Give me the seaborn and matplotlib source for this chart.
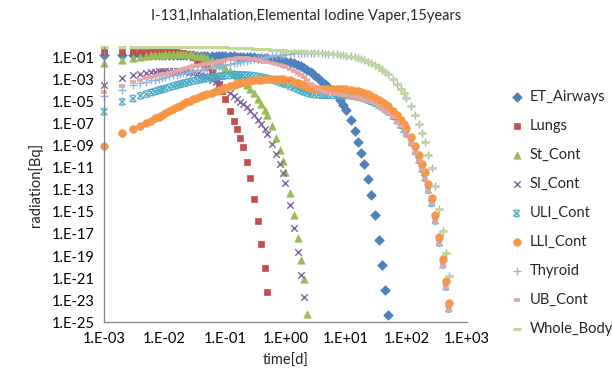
import numpy as np
import matplotlib
matplotlib.use("Agg")
import matplotlib.pyplot as plt
import seaborn as sns
from matplotlib.path import Path
from matplotlib.ticker import NullLocator

# time grid [d]
time_d = [
    0.001, 0.002, 0.003, 0.004, 0.005, 0.006, 0.007, 0.008, 0.009,
    0.01, 0.012, 0.014, 0.016, 0.018, 0.02, 0.023, 0.026, 0.03, 0.035, 0.04, 0.045, 0.05, 0.06, 0.07, 0.08, 0.09,
    0.1, 0.12, 0.14, 0.16, 0.18, 0.2, 0.23, 0.26, 0.3, 0.35, 0.4, 0.45, 0.5, 0.6, 0.7, 0.8, 0.9,
    1, 1.2, 1.4, 1.6, 1.8, 2, 2.3, 2.6, 3, 3.5, 4, 4.5, 5, 6, 7, 8, 9,
    10, 12, 14, 16, 18, 20, 23, 26, 30, 35, 40, 45, 50, 60, 70, 80, 90,
    100, 120, 140, 160, 180, 200, 230, 260, 300, 350, 400, 450, 500,
]

# radiation values as log10(Bq) (series stop when they leave the axis)
et_airways = [
    -0.75, -0.75, -0.75, -0.75, -0.75, -0.75, -0.75, -0.75, -0.75,
    -0.75, -0.75, -0.76, -0.76, -0.76, -0.77, -0.77, -0.78, -0.78, -0.79, -0.79, -0.8, -0.8, -0.81, -0.82, -0.83, -0.84,
    -0.85, -0.86, -0.87, -0.88, -0.89, -0.9, -0.92, -0.93, -0.95, -0.97, -0.99, -1.01, -1.03, -1.08, -1.13, -1.2, -1.25,
    -1.3, -1.4, -1.5, -1.63, -1.77, -1.9, -2.1, -2.3, -2.55, -2.85, -3.15, -3.4, -3.62, -4.0, -4.4, -4.8, -5.25,
    -5.7, -6.65, -7.6, -8.6, -9.6, -10.6, -12.0, -13.5, -15.3, -17.5, -19.8, -22.1, -24.4,
]
lungs = [
    -0.43, -0.43, -0.43, -0.43, -0.43, -0.43, -0.43, -0.43, -0.43,
    -0.43, -0.44, -0.46, -0.5, -0.55, -0.6, -0.68, -0.78, -0.95, -1.15, -1.35, -1.55, -1.8, -2.3, -2.8, -3.4, -4.0,
    -4.7, -5.8, -6.7, -7.5, -8.3, -9.1, -10.5, -11.9, -13.8, -15.8, -17.9, -20.1, -22.3,
]
st_cont = [
    -1.45, -1.2, -0.98, -0.88, -0.8, -0.76, -0.73, -0.71, -0.7,
    -0.69, -0.67, -0.66, -0.65, -0.65, -0.65, -0.66, -0.68, -0.72, -0.79, -0.87, -0.95, -1.03, -1.2, -1.37, -1.53, -1.68,
    -1.9, -2.15, -2.4, -2.65, -2.9, -3.15, -3.5, -3.8, -4.2, -4.7, -5.2, -5.7, -6.2, -7.2, -8.3, -9.4, -10.4,
    -11.4, -13.3, -15.3, -17.4, -19.4, -21.1, -24.3,
]
si_cont = [
    -3.45, -2.85, -2.6, -2.45, -2.35, -2.3, -2.26, -2.23, -2.21,
    -2.2, -2.18, -2.17, -2.17, -2.18, -2.2, -2.23, -2.27, -2.33, -2.42, -2.52, -2.63, -2.75, -2.98, -3.2, -3.42, -3.62,
    -3.82, -4.2, -4.5, -4.75, -4.98, -5.2, -5.5, -5.8, -6.15, -6.6, -7.05, -7.5, -7.9, -8.8, -9.7, -10.6, -11.5,
    -12.4, -14.4, -16.5, -18.6, -20.7, -22.7,
]
uli_cont = [
    -5.9, -5.0, -4.7, -4.45, -4.3, -4.15, -4.05, -3.95, -3.87,
    -3.8, -3.67, -3.57, -3.48, -3.4, -3.33, -3.25, -3.18, -3.1, -3.02, -2.95, -2.9, -2.85, -2.78, -2.72, -2.68, -2.65,
    -2.62, -2.58, -2.56, -2.55, -2.55, -2.56, -2.58, -2.6, -2.64, -2.7, -2.76, -2.82, -2.88, -3.0, -3.1, -3.2, -3.3,
    -3.4, -3.57, -3.72, -3.85, -3.97, -4.07, -4.18, -4.26, -4.32, -4.36, -4.38, -4.39, -4.4, -4.4, -4.4, -4.4, -4.4,
    -4.4, -4.43, -4.48, -4.55, -4.62, -4.7, -4.82, -4.95, -5.1, -5.3, -5.5, -5.7, -5.9, -6.3, -6.7, -7.1, -7.5,
    -7.9, -8.7, -9.5, -10.3, -11.1, -11.9, -13.0, -14.2, -15.8, -17.8, -19.8, -21.8, -23.8,
]
lli_cont = [
    -9.0, -7.8, -7.45, -7.15, -6.9, -6.7, -6.5, -6.35, -6.2,
    -6.05, -5.85, -5.65, -5.5, -5.35, -5.2, -5.05, -4.9, -4.75, -4.6, -4.5, -4.4, -4.3, -4.15, -4.0, -3.9, -3.8,
    -3.7, -3.55, -3.45, -3.35, -3.28, -3.22, -3.15, -3.1, -3.05, -3.0, -2.97, -2.95, -2.93, -2.92, -2.92, -2.93, -2.95,
    -2.98, -3.05, -3.15, -3.27, -3.4, -3.5, -3.62, -3.72, -3.8, -3.85, -3.87, -3.87, -3.86, -3.85, -3.84, -3.84, -3.85,
    -3.87, -3.92, -3.98, -4.05, -4.12, -4.2, -4.32, -4.45, -4.6, -4.8, -5.0, -5.2, -5.4, -5.8, -6.2, -6.6, -7.0,
    -7.4, -8.2, -9.0, -9.8, -10.6, -11.4, -12.5, -13.7, -15.3, -17.3, -19.3, -21.3, -23.3,
]
thyroid = [
    -4.43, -3.9, -3.45, -3.28, -3.15, -3.05, -2.97, -2.9, -2.84,
    -2.78, -2.68, -2.6, -2.52, -2.46, -2.4, -2.33, -2.27, -2.2, -2.12, -2.06, -2.0, -1.95, -1.87, -1.8, -1.74, -1.69,
    -1.64, -1.56, -1.48, -1.42, -1.36, -1.31, -1.24, -1.18, -1.11, -1.04, -0.98, -0.93, -0.89, -0.82, -0.77, -0.73, -0.7,
    -0.67, -0.63, -0.6, -0.58, -0.57, -0.56, -0.56, -0.56, -0.57, -0.58, -0.6, -0.61, -0.63, -0.66, -0.69, -0.72, -0.75,
    -0.79, -0.87, -0.95, -1.03, -1.11, -1.2, -1.33, -1.46, -1.63, -1.85, -2.07, -2.29, -2.5, -2.93, -3.36, -3.79, -4.2,
    -4.6, -5.4, -6.2, -7.0, -7.8, -8.6, -9.8, -11.0, -12.6, -14.7, -16.7, -18.7, -20.8,
]
ub_cont = [
    -4.1, -3.55, -3.2, -3.0, -2.85, -2.75, -2.65, -2.58, -2.5,
    -2.45, -2.35, -2.25, -2.15, -2.08, -2.0, -1.92, -1.85, -1.77, -1.7, -1.63, -1.57, -1.52, -1.43, -1.36, -1.3, -1.25,
    -1.2, -1.13, -1.08, -1.05, -1.03, -1.03, -1.05, -1.08, -1.13, -1.2, -1.27, -1.33, -1.4, -1.5, -1.6, -1.68, -1.75,
    -1.82, -1.98, -2.15, -2.35, -2.55, -2.75, -3.05, -3.35, -3.6, -3.85, -4.0, -4.1, -4.18, -4.27, -4.32, -4.36, -4.4,
    -4.43, -4.52, -4.58, -4.65, -4.72, -4.8, -4.92, -5.05, -5.2, -5.4, -5.6, -5.8, -6.0, -6.4, -6.8, -7.2, -7.6,
    -8.0, -8.8, -9.6, -10.4, -11.2, -12.0, -13.1, -14.3, -15.9, -17.9, -19.9, -21.9, -23.9,
]
whole_body = [
    -0.02, -0.02, -0.02, -0.02, -0.02, -0.02, -0.02, -0.02, -0.02,
    -0.02, -0.02, -0.02, -0.02, -0.02, -0.02, -0.02, -0.02, -0.02, -0.02, -0.03, -0.03, -0.03, -0.03, -0.03, -0.04, -0.04,
    -0.05, -0.06, -0.07, -0.08, -0.09, -0.1, -0.12, -0.13, -0.15, -0.17, -0.19, -0.21, -0.22, -0.25, -0.28, -0.3, -0.32,
    -0.33, -0.36, -0.38, -0.4, -0.42, -0.43, -0.46, -0.48, -0.5, -0.52, -0.54, -0.56, -0.58, -0.62, -0.67, -0.71, -0.76,
    -0.8, -0.88, -0.96, -1.04, -1.12, -1.2, -1.33, -1.46, -1.63, -1.85, -2.07, -2.29, -2.5, -2.93, -3.36, -3.79, -4.2,
    -4.6, -5.4, -6.2, -7.0, -7.8, -8.6, -9.8, -11.0, -12.6, -14.7, -16.7, -18.7, -20.8,
]

series_names = ["ET_Airways", "Lungs", "St_Cont", "SI_Cont", "ULI_Cont",
                "LLI_Cont", "Thyroid", "UB_Cont", "Whole_Body"]
series_values = [et_airways, lungs, st_cont, si_cont, uli_cont,
                 lli_cont, thyroid, ub_cont, whole_body]

x_ticks = [1e-3, 1e-2, 1e-1, 1e0, 1e1, 1e2, 1e3]
x_tick_labels = ["1.E-03", "1.E-02", "1.E-01", "1.E+00", "1.E+01", "1.E+02", "1.E+03"]
y_ticks = [1e-25, 1e-23, 1e-21, 1e-19, 1e-17, 1e-15, 1e-13, 1e-11, 1e-09, 1e-07, 1e-05, 1e-03, 1e-01]
y_tick_labels = ["1.E-25", "1.E-23", "1.E-21", "1.E-19", "1.E-17", "1.E-15", "1.E-13",
                 "1.E-11", "1.E-09", "1.E-07", "1.E-05", "1.E-03", "1.E-01"]

# Excel-like "star" marker: an x with short bars on top and bottom
star = Path(
    [(-1, -1), (1, 1), (-1, 1), (1, -1), (-0.55, 1), (0.55, 1), (-0.55, -1), (0.55, -1)],
    [Path.MOVETO, Path.LINETO, Path.MOVETO, Path.LINETO,
     Path.MOVETO, Path.LINETO, Path.MOVETO, Path.LINETO],
)

# marker style per series: (marker, size, color, kind, linewidth)
styles = {
    "ET_Airways": ("D", 24, "#4F81BD", "fill", 0.5),
    "Lungs": ("s", 22, "#C0504D", "fill", 0.5),
    "St_Cont": ("^", 28, "#9BBB59", "fill", 0.5),
    "SI_Cont": ("x", 22, "#8064A2", "line", 1.0),
    "ULI_Cont": (star, 22, "#4BACC6", "path", 1.0),
    "LLI_Cont": ("o", 30, "#F79646", "fill", 0.5),
    "Thyroid": ("+", 26, "#95B3D7", "line", 1.0),
    "UB_Cont": ("_", 16, "#E6A5A3", "line", 2.6),
    "Whole_Body": ("_", 34, "#C3D69B", "line", 2.2),
}

sns.set_style("white")
plt.rcParams["font.family"] = ["Lato", "DejaVu Sans"]

fig, ax = plt.subplots(figsize=(6.12, 3.78), dpi=100)
fig.subplots_adjust(left=0.170, right=0.763, top=0.876, bottom=0.148)

for name, vals in zip(series_names, series_values):
    marker, size, color, kind, lw = styles[name]
    t = time_d[:len(vals)]
    v = 10.0 ** np.array(vals)
    if kind == "fill":
        sns.scatterplot(x=t, y=v, ax=ax, marker=marker, s=size, color=color,
                        edgecolor=color, linewidth=lw, label=name, clip_on=False)
    elif kind == "path":
        sns.scatterplot(x=t, y=v, ax=ax, marker=marker, s=size, color=color,
                        facecolor="none", edgecolor=color, linewidth=lw,
                        label=name, clip_on=False)
    else:
        sns.scatterplot(x=t, y=v, ax=ax, marker=marker, s=size, color=color,
                        linewidth=lw, label=name, clip_on=False)

ax.set_xscale("log")
ax.set_yscale("log")
ax.set_xlim(1e-3, 1e3)
ax.set_ylim(1e-25, 1)
ax.set_xticks(x_ticks, x_tick_labels)
ax.set_yticks(y_ticks, y_tick_labels)
ax.xaxis.set_minor_locator(NullLocator())
ax.yaxis.set_minor_locator(NullLocator())
ax.tick_params(axis="both", direction="out", length=4, width=0.8, color="#868686",
               labelsize=10.5, labelcolor="#000000", pad=3)

sns.despine(ax=ax)
for side in ["left", "bottom"]:
    ax.spines[side].set_color("#868686")
    ax.spines[side].set_linewidth(0.9)

ax.set_xlabel("time[d]", fontsize=10.5, labelpad=6)
ax.set_ylabel("radiation[Bq]", fontsize=10.5, labelpad=6)
fig.suptitle("I-131,Inhalation,Elemental Iodine Vaper,15years", fontsize=10.5, y=0.975)

leg = ax.legend(loc="center left", bbox_to_anchor=(0.825, 0.436), bbox_transform=fig.transFigure,
                frameon=False, fontsize=10.5, handlelength=0.8, handletextpad=0.5,
                labelspacing=1.03, borderaxespad=0, markerscale=1.0)

fig.savefig("out.png", dpi=100)
